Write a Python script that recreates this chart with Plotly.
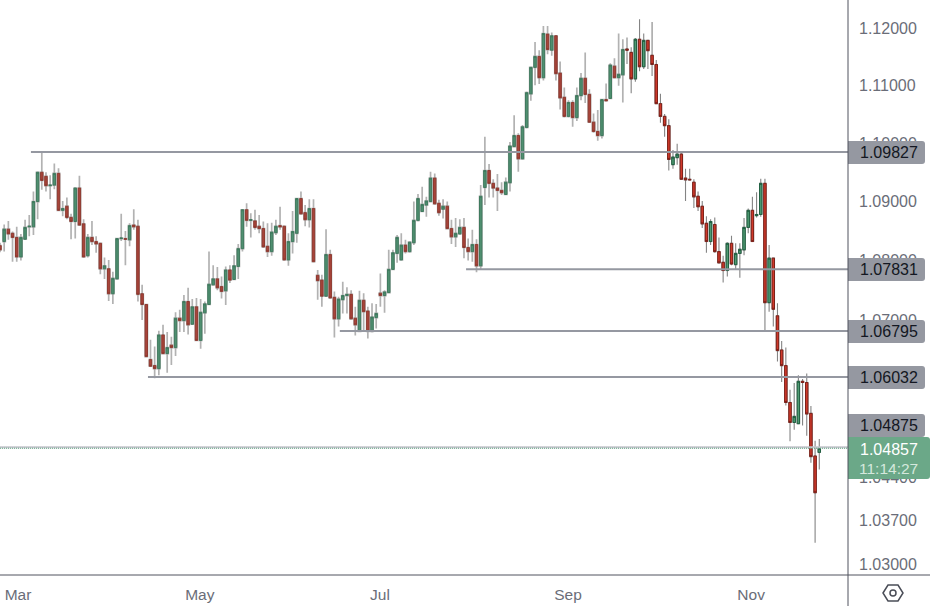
import math
import plotly.graph_objects as go

opens = [1.0823,1.0830,1.0851,1.0844,1.0837,1.0804,1.0834,1.0855,1.0855,1.0898,
1.0948,1.0941,1.0925,1.0926,1.0946,1.0883,1.0890,1.0871,1.0864,1.0921,
1.0860,1.0806,1.0837,1.0830,1.0827,1.0784,1.0784,1.0742,1.0767,1.0835,
1.0835,1.0833,1.0858,1.0856,1.0742,1.0724,1.0632,1.0622,1.0617,1.0673,
1.0642,1.0656,1.0652,1.0701,1.0697,1.0729,1.0691,1.0720,1.0664,1.0710,
1.0724,1.0757,1.0767,1.0754,1.0747,1.0782,1.0766,1.0788,1.0818,1.0884,
1.0866,1.0865,1.0856,1.0852,1.0822,1.0813,1.0845,1.0857,1.0856,1.0799,
1.0830,1.0844,1.0903,1.0879,1.0867,1.0886,1.0773,1.0765,1.0738,1.0808,
1.0736,1.0700,1.0732,1.0739,1.0741,1.0701,1.0679,1.0731,1.0713,1.0679,
1.0702,1.0743,1.0739,1.0744,1.0783,1.0810,1.0799,1.0824,1.0813,1.0828,
1.0866,1.0881,1.0892,1.0898,1.0938,1.0895,1.0885,1.0890,1.0852,1.0838,
1.0843,1.0854,1.0820,1.0813,1.0825,1.0789,1.0922,1.0951,1.0929,1.0921,
1.0917,1.0910,1.0930,1.0992,1.1011,1.0971,1.1025,1.1083,1.1129,1.1148,
1.1111,1.1187,1.1159,1.1184,1.1119,1.1077,1.1044,1.1068,1.1042,1.1080,
1.1110,1.1082,1.1034,1.1018,1.1011,1.1073,1.1075,1.1131,1.1111,1.1116,
1.1161,1.1155,1.1109,1.1178,1.1130,1.1176,1.1150,1.1134,1.1066,1.1044,
1.1028,1.0961,1.0973,1.0979,1.0938,1.0936,1.0931,1.0907,1.0890,1.0861,
1.0830,1.0859,1.0813,1.0795,1.0781,1.0827,1.0791,1.0810,1.0816,1.0854,
1.0883,1.0874,1.0876,1.0929,1.0727,1.0802,1.0705,1.0648,1.0622,1.0561,
1.0528,1.0526,1.0596,1.0594,1.0543,1.0473,1.0479]
highs = [1.0828,1.0859,1.0865,1.0847,1.0855,1.0843,1.0867,1.0875,1.0915,1.0948,
1.0982,1.0948,1.0943,1.0963,1.0955,1.0899,1.0905,1.0877,1.0921,1.0942,
1.0868,1.0843,1.0865,1.0839,1.0827,1.0803,1.0799,1.0779,1.0835,1.0877,
1.0848,1.0861,1.0885,1.0867,1.0757,1.0724,1.0665,1.0654,1.0680,1.0690,
1.0678,1.0670,1.0711,1.0715,1.0740,1.0752,1.0733,1.0735,1.0733,1.0729,
1.0813,1.0790,1.0787,1.0771,1.0788,1.0790,1.0807,1.0826,1.0884,1.0895,
1.0878,1.0884,1.0875,1.0864,1.0861,1.0862,1.0867,1.0889,1.0856,1.0844,
1.0882,1.0903,1.0915,1.0892,1.0902,1.0902,1.0782,1.0774,1.0851,1.0816,
1.0746,1.0737,1.0762,1.0753,1.0748,1.0720,1.0747,1.0743,1.0720,1.0726,
1.0725,1.0776,1.0748,1.0816,1.0816,1.0841,1.0844,1.0833,1.0830,1.0898,
1.0911,1.0923,1.0906,1.0949,1.0946,1.0901,1.0902,1.0898,1.0867,1.0870,
1.0868,1.0870,1.0835,1.0850,1.0834,1.0926,1.1009,1.0962,1.0936,1.0945,
1.0931,1.0939,1.1000,1.1046,1.1015,1.1029,1.1087,1.1130,1.1173,1.1159,
1.1201,1.1201,1.1190,1.1185,1.1139,1.1094,1.1072,1.1072,1.1094,1.1119,
1.1155,1.1091,1.1049,1.1055,1.1073,1.1101,1.1136,1.1145,1.1188,1.1178,
1.1181,1.1164,1.1180,1.1213,1.1188,1.1177,1.1208,1.1142,1.1083,1.1048,
1.1039,1.0986,1.0997,1.0982,1.0954,1.0954,1.0936,1.0915,1.0899,1.0873,
1.0868,1.0871,1.0837,1.0806,1.0829,1.0840,1.0827,1.0827,1.0870,1.0886,
1.0906,1.0914,1.0937,1.0937,1.0824,1.0803,1.0726,1.0663,1.0652,1.0582,
1.0593,1.0606,1.0600,1.0609,1.0555,1.0498,1.0501]
lows = [1.0812,1.0813,1.0833,1.0796,1.0796,1.0798,1.0833,1.0839,1.0841,1.0868,
1.0918,1.0915,1.0902,1.0919,1.0883,1.0873,1.0868,1.0834,1.0835,1.0858,
1.0804,1.0803,1.0824,1.0811,1.0775,1.0767,1.0730,1.0725,1.0767,1.0831,
1.0790,1.0822,1.0850,1.0729,1.0698,1.0637,1.0621,1.0601,1.0606,1.0642,
1.0610,1.0623,1.0638,1.0678,1.0678,1.0674,1.0691,1.0664,1.0650,1.0675,
1.0724,1.0757,1.0748,1.0734,1.0723,1.0760,1.0765,1.0767,1.0813,1.0855,
1.0837,1.0850,1.0844,1.0819,1.0804,1.0806,1.0841,1.0850,1.0799,1.0789,
1.0810,1.0828,1.0877,1.0856,1.0854,1.0796,1.0732,1.0720,1.0738,1.0735,
1.0669,1.0687,1.0709,1.0709,1.0700,1.0672,1.0679,1.0681,1.0667,1.0677,
1.0684,1.0720,1.0710,1.0744,1.0782,1.0794,1.0799,1.0810,1.0811,1.0824,
1.0864,1.0881,1.0872,1.0898,1.0894,1.0874,1.0869,1.0852,1.0826,1.0821,
1.0841,1.0802,1.0798,1.0796,1.0778,1.0782,1.0892,1.0905,1.0905,1.0882,
1.0909,1.0909,1.0915,1.0992,1.0949,1.0970,1.1023,1.1071,1.1098,1.1100,
1.1106,1.1152,1.1149,1.1106,1.1056,1.1042,1.1042,1.1026,1.1036,1.1072,
1.1067,1.1034,1.1016,1.1002,1.1006,1.1071,1.1075,1.1111,1.1097,1.1068,
1.1135,1.1084,1.1104,1.1122,1.1126,1.1126,1.1114,1.1066,1.1033,1.1009,
1.0951,1.0954,1.0961,1.0936,1.0899,1.0935,1.0887,1.0882,1.0853,1.0811,
1.0824,1.0811,1.0793,1.0761,1.0771,1.0790,1.0782,1.0769,1.0807,1.0844,
1.0830,1.0871,1.0872,1.0681,1.0712,1.0687,1.0629,1.0595,1.0556,1.0497,
1.0516,1.0526,1.0523,1.0506,1.0462,1.0332,1.0451]
closes = [1.0816,1.0851,1.0843,1.0837,1.0804,1.0837,1.0854,1.0856,1.0898,1.0948,
1.0934,1.0925,1.0926,1.0946,1.0883,1.0886,1.0871,1.0864,1.0921,1.0858,
1.0804,1.0837,1.0830,1.0826,1.0784,1.0789,1.0742,1.0768,1.0835,1.0836,
1.0834,1.0857,1.0855,1.0741,1.0724,1.0637,1.0621,1.0617,1.0673,1.0642,
1.0652,1.0652,1.0701,1.0697,1.0729,1.0690,1.0720,1.0664,1.0711,1.0725,
1.0758,1.0767,1.0752,1.0746,1.0782,1.0765,1.0789,1.0818,1.0884,1.0866,
1.0867,1.0854,1.0852,1.0821,1.0813,1.0846,1.0856,1.0855,1.0799,1.0830,
1.0847,1.0903,1.0877,1.0867,1.0886,1.0796,1.0764,1.0738,1.0808,1.0735,
1.0700,1.0733,1.0739,1.0741,1.0700,1.0690,1.0731,1.0712,1.0679,1.0703,
1.0709,1.0739,1.0745,1.0783,1.0811,1.0837,1.0824,1.0813,1.0829,1.0866,
1.0903,1.0893,1.0899,1.0938,1.0894,1.0879,1.0890,1.0852,1.0838,1.0844,
1.0854,1.0820,1.0813,1.0825,1.0789,1.0907,1.0951,1.0929,1.0921,1.0917,
1.0913,1.0931,1.0993,1.1011,1.0971,1.1026,1.1085,1.1129,1.1148,1.1111,
1.1188,1.1160,1.1184,1.1118,1.1076,1.1044,1.1068,1.1042,1.1080,1.1110,
1.1082,1.1034,1.1018,1.1011,1.1073,1.1071,1.1133,1.1111,1.1117,1.1160,
1.1159,1.1109,1.1178,1.1130,1.1176,1.1158,1.1134,1.1066,1.1044,1.1028,
1.0970,1.0974,1.0979,1.0936,1.0935,1.0935,1.0906,1.0889,1.0860,1.0830,
1.0864,1.0813,1.0794,1.0781,1.0827,1.0792,1.0810,1.0817,1.0854,1.0883,
1.0830,1.0876,1.0929,1.0727,1.0802,1.0716,1.0647,1.0622,1.0561,1.0528,
1.0538,1.0596,1.0594,1.0542,1.0472,1.0413,1.04857]

month_labels = ["Mar", "May", "Jul", "Sep", "Nov"]
month_index = [4.3, 47.8, 90.9, 135.9, 179.7]
price_ticks = [1.12, 1.11, 1.10, 1.09, 1.08, 1.07, 1.044, 1.037, 1.03]
level_values = [1.09827, 1.07831, 1.06795, 1.06032]
level_start = [7.4, 111.5, 81.3, 35.4]
last_close = 1.04857
last_high_marker = 1.04875
countdown = "11:14:27"

n = min(len(opens), len(highs), len(lows), len(closes))
opens, highs, lows, closes = opens[:n], highs[:n], lows[:n], closes[:n]
xs = list(range(n))
body_hi = [max(a, b) for a, b in zip(opens, closes)]
body_lo = [min(a, b) for a, b in zip(opens, closes)]

W, H = 930, 606
PR, PB = 848, 575
XMAX = PR / 4.18
SPLIT = 150  # candles left of here look softer in the reference
FONT = "Liberation Sans"
LABEL = "#6a6d78"
AXIS = "#50535e"
GRAY = "#9598a1"

def px(x, y):
    return x / PR, (PB - y) / PB

def wicks(a, b, color, width):
    return go.Candlestick(
        x=xs[a:b], open=opens[a:b], high=highs[a:b], low=lows[a:b], close=closes[a:b], whiskerwidth=0,
        increasing=dict(line=dict(color=color, width=width), fillcolor=color),
        decreasing=dict(line=dict(color=color, width=width), fillcolor=color),
        hoverinfo="skip", showlegend=False)

def bodies(a, b, up, up_line, dn, dn_line):
    return go.Candlestick(
        x=xs[a:b], open=opens[a:b], high=body_hi[a:b], low=body_lo[a:b], close=closes[a:b], whiskerwidth=0,
        increasing=dict(line=dict(color=up_line, width=1), fillcolor=up),
        decreasing=dict(line=dict(color=dn_line, width=1), fillcolor=dn),
        hoverinfo="skip", showlegend=False)

fig = go.Figure()
fig.add_trace(wicks(0, SPLIT, "#b2b2b2", 1.7))
fig.add_trace(wicks(SPLIT, n, "#848484", 1.1))
for val, start in zip(level_values, level_start):
    fig.add_trace(go.Scatter(x=[start, XMAX], y=[val, val], mode="lines",
                             line=dict(color=GRAY, width=2), hoverinfo="skip", showlegend=False))
fig.add_trace(go.Scatter(x=[0, XMAX], y=[last_high_marker] * 2, mode="lines",
                         line=dict(color="#c4c6cc", width=2), hoverinfo="skip", showlegend=False))
fig.add_trace(go.Scatter(x=[0, XMAX], y=[last_close] * 2, mode="lines",
                         line=dict(color="#5fa382", width=1, dash="1px 1px"), hoverinfo="skip", showlegend=False))
fig.add_trace(bodies(0, SPLIT, "#4f8f70", "#3f7a5e", "#a8443a", "#8f3a30"))
fig.add_trace(bodies(SPLIT, n, "#4f9a72", "#1f5f40", "#d0392b", "#7d2018"))
# Carrier for the price-label axis, which sits 1.5 px below the data axis in the reference.
fig.add_trace(go.Scatter(x=[xs[-1]], y=[last_close], yaxis="y2", mode="markers",
                         marker=dict(opacity=0), hoverinfo="skip", showlegend=False))

def rbox(x0, y0, x1, y1, fill, r=3):
    ax, ay = px(x0, y0); bx, by = px(x1, y1)
    rx, ry = r / PR, r / PB
    path = (f"M{ax},{ay} L{bx-rx},{ay} Q{bx},{ay} {bx},{ay-ry} L{bx},{by+ry} "
            f"Q{bx},{by} {bx-rx},{by} L{ax},{by} Z")
    return dict(type="path", path=path, xref="paper", yref="paper",
                fillcolor=fill, line=dict(width=0), layer="above")

shapes = []
boxes = [(141, 164, 925), (258, 281, 925), (320, 343, 925), (366, 389, 925), (414, 437, 925)]
for y0, y1, x1 in boxes:
    shapes.append(rbox(PR, y0, x1, y1, GRAY))
shapes.append(rbox(PR, 437, 930, 479, "#6ba888"))
for a, b in [((PR, 0), (PR, H)), ((0, PB), (W, PB))]:
    p0, p1 = px(*a), px(*b)
    shapes.append(dict(type="line", xref="paper", yref="paper", x0=p0[0], y0=p0[1], x1=p1[0], y1=p1[1],
                       line=dict(color=AXIS, width=1), layer="above"))
cx, cy = 893, 593
hexpts = [(-10, 0), (-5, -8), (5, -8), (10, 0), (5, 8), (-5, 8)]
hp = [px(cx + dx, cy + dy) for dx, dy in hexpts]
path = "M" + " L".join(f"{a},{b}" for a, b in hp) + " Z"
shapes.append(dict(type="path", path=path, xref="paper", yref="paper",
                   line=dict(color="#4a4d57", width=1.5), layer="above"))
c0, c1 = px(cx - 3, cy - 3), px(cx + 3, cy + 3)
shapes.append(dict(type="circle", xref="paper", yref="paper", x0=c0[0], y0=c0[1], x1=c1[0], y1=c1[1],
                   line=dict(color="#4a4d57", width=1.5), layer="above"))

anns = []
def label(text, yc, color, size=16, xc=888.5):
    x, y = px(xc, yc)
    anns.append(dict(text=text, x=x, y=y, xref="paper", yref="paper", showarrow=False,
                     font=dict(family=FONT, size=size, color=color),
                     xanchor="center", yanchor="middle"))
for val, yc in zip(level_values + [last_high_marker], [152.5, 269.5, 331.5, 377.5, 425.5]):
    label(f"{val:.5f}", yc, "#131722")
label(f"{last_close:.5f}", 449, "#ffffff")
label(countdown, 468, "#d5e8dd", size=15.5)

log_lo = math.log10(1.09827 * math.exp(-423 / 6397))
log_hi = math.log10(1.09827 * math.exp(152 / 6397))
shift = 1.5 / 6397 / math.log(10)

fig.update_layout(
    width=W, height=H, margin=dict(l=0, r=W - PR, t=0, b=H - PB, autoexpand=False),
    paper_bgcolor="#ffffff", plot_bgcolor="#ffffff", showlegend=False,
    boxmode="overlay", boxgap=0.18, shapes=shapes, annotations=anns,
    xaxis=dict(range=[0, XMAX], rangeslider=dict(visible=False), showgrid=False, zeroline=False,
               tickmode="array", tickvals=month_index, ticktext=month_labels, ticks="",
               ticklabelstandoff=8, tickfont=dict(family=FONT, size=15.5, color=LABEL),
               showline=False, fixedrange=True),
    yaxis=dict(type="log", showgrid=False, zeroline=False, range=[log_lo, log_hi],
               showticklabels=False, ticks="", showline=False, fixedrange=True),
    yaxis2=dict(type="log", overlaying="y", side="right", showgrid=False, zeroline=False,
                range=[log_lo + shift, log_hi + shift],
                tickmode="array", tickvals=price_ticks, ticktext=[f"{v:.5f}" for v in price_ticks], ticks="",
                ticklabelstandoff=10, tickfont=dict(family=FONT, size=16, color=LABEL),
                showline=False, fixedrange=True),
)
fig.write_html("out.html", post_script="document.body.style.margin='0';document.documentElement.style.overflow='hidden';",
               config={"displayModeBar": False})
